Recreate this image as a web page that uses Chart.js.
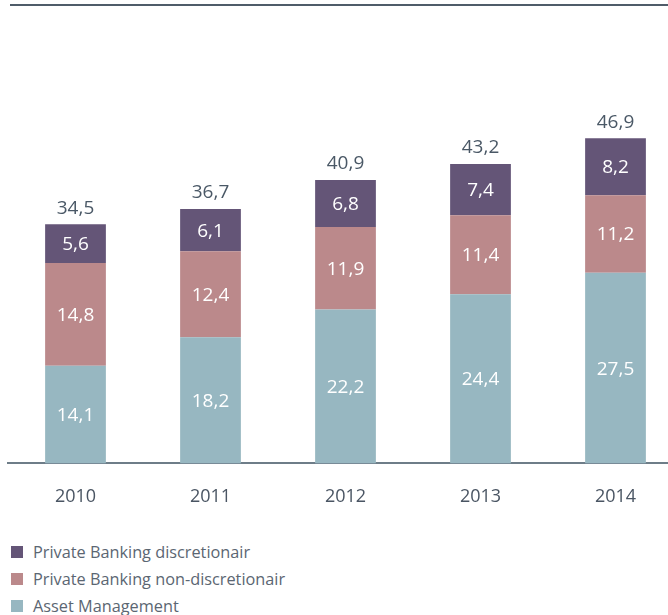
<!DOCTYPE html>
<html>
<head>
<meta charset="utf-8">
<script src="https://cdn.jsdelivr.net/npm/chart.js@4"></script>
<style>
  html, body { margin: 0; padding: 0; background: #fff; overflow: hidden; }
  body { width: 668px; height: 615px; position: relative; font-family: "Open Sans", sans-serif; }
  .topline { position: absolute; left: 10px; top: 4px; width: 658px; height: 0; border-top: 2px solid #4f5c69; }
  .wrap { position: absolute; left: 0; top: 0; width: 690px; height: 523px; }
  #legend { position: absolute; left: 11px; top: 538px; margin: 0; padding: 0; list-style: none; }
  #legend li { height: 27px; display: flex; align-items: center; font-size: 16.3px; color: #5b6672; }
  #legend span { display: inline-block; width: 12px; height: 12px; margin-right: 10px; }
</style>
</head>
<body>
<div class="topline"></div>
<div class="wrap"><canvas id="chart"></canvas></div>
<ul id="legend"></ul>
<script>
// Gegevens
const years = ['2010', '2011', '2012', '2013', '2014'];
const assetManagement = [14.1, 18.2, 22.2, 24.4, 27.5];
const pbNonDiscretionair = [14.8, 12.4, 11.9, 11.4, 11.2];
const pbDiscretionair = [5.6, 6.1, 6.8, 7.4, 8.2];

const fmt = v => v.toFixed(1).replace('.', ',');

// Labels in de segmenten en totalen boven de staven
const valueLabels = {
    id: 'valueLabels',
    afterDatasetsDraw(chart) {
        const ctx = chart.ctx;
        ctx.save();
        ctx.textAlign = 'center';
        ctx.textBaseline = 'middle';
        ctx.font = '19px "Open Sans"';
        chart.data.datasets.forEach((ds, i) => {
            chart.getDatasetMeta(i).data.forEach((bar, j) => {
                const mid = (bar.y + bar.base) / 2;
                ctx.fillStyle = '#ffffff';
                ctx.fillText(fmt(ds.data[j]), bar.x, mid + 1);
            });
        });
        const last = chart.getDatasetMeta(chart.data.datasets.length - 1);
        last.data.forEach((bar, j) => {
            const total = chart.data.datasets.reduce((s, ds) => s + ds.data[j], 0);
            ctx.fillStyle = '#4a5866';
            ctx.fillText(fmt(total), bar.x, bar.y - 16);
        });
        ctx.restore();
    }
};

const chart = new Chart(document.getElementById('chart'), {
    type: 'bar',
    data: {
        labels: years,
        datasets: [
            { label: 'Asset Management', data: assetManagement, backgroundColor: '#97b7c1' },
            { label: 'Private Banking non-discretionair', data: pbNonDiscretionair, backgroundColor: '#bb898b' },
            { label: 'Private Banking discretionair', data: pbDiscretionair, backgroundColor: '#645577' }
        ]
    },
    options: {
        responsive: true,
        maintainAspectRatio: false,
        animation: false,
        layout: { padding: { left: 8, right: 7, top: 6, bottom: 0 } },
        datasets: { bar: { barPercentage: 0.45, categoryPercentage: 1 } },
        plugins: {
            legend: { display: false },
            tooltip: { enabled: false }
        },
        scales: {
            x: {
                stacked: true,
                grid: { display: false },
                border: { display: true, color: '#6e7d88', width: 2 },
                ticks: { color: '#4a5563', font: { family: 'Open Sans', size: 18 }, padding: 15 }
            },
            y: {
                stacked: true,
                display: false,
                min: 0,
                max: 66
            }
        }
    },
    plugins: [valueLabels]
});

// Legenda (omgekeerde volgorde)
const legend = document.getElementById('legend');
chart.data.datasets.slice().reverse().forEach(ds => {
    const li = document.createElement('li');
    li.innerHTML = '<span style="background:' + ds.backgroundColor + '"></span>' + ds.label;
    legend.appendChild(li);
});
</script>
</body>
</html>
